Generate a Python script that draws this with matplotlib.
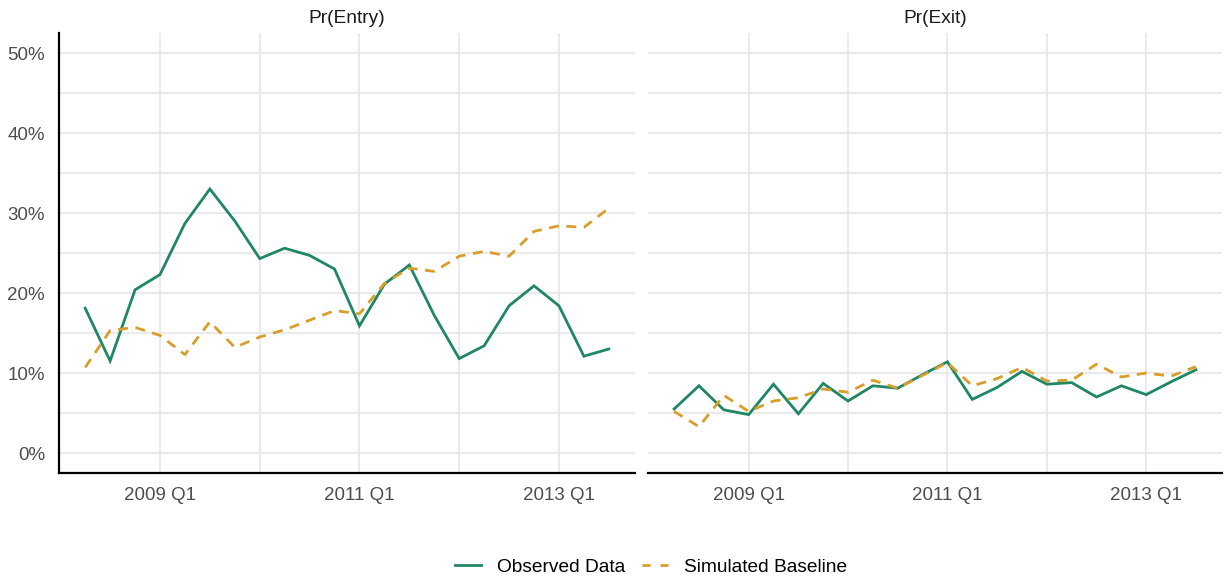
import matplotlib
matplotlib.use("Agg")
import matplotlib.pyplot as plt
from matplotlib.ticker import FixedLocator, PercentFormatter
from matplotlib.lines import Line2D

plt.rcParams["font.family"] = ["Liberation Sans", "DejaVu Sans"]

# Quarterly periods, 2008 Q2 through 2013 Q3
quarters = [f"{y} Q{q}" for y in range(2008, 2014) for q in range(1, 5)][1:23]

entry_observed = [18.1, 11.5, 20.4, 22.3, 28.7, 33.0, 29.0, 24.3, 25.6, 24.7, 23.0,
                  15.9, 21.1, 23.5, 17.2, 11.8, 13.4, 18.4, 20.9, 18.4, 12.1, 13.0]
entry_simulated = [10.7, 15.3, 15.7, 14.7, 12.3, 16.4, 13.2, 14.5, 15.4, 16.6, 17.8,
                   17.4, 21.2, 23.1, 22.7, 24.6, 25.2, 24.6, 27.7, 28.4, 28.2, 30.6]
exit_observed = [5.5, 8.4, 5.4, 4.8, 8.6, 4.9, 8.7, 6.5, 8.4, 8.1, 9.8,
                 11.4, 6.7, 8.2, 10.2, 8.6, 8.8, 7.0, 8.4, 7.3, 8.9, 10.4]
exit_simulated = [5.2, 3.3, 7.2, 5.2, 6.5, 6.9, 8.0, 7.6, 9.1, 8.1, 9.7,
                  11.3, 8.4, 9.3, 10.7, 9.0, 9.1, 11.1, 9.5, 10.0, 9.6, 10.8]

panel_titles = ["Pr(Entry)", "Pr(Exit)"]
series_labels = ["Observed Data", "Simulated Baseline"]
y_ticks = [0, 10, 20, 30, 40, 50]
x_tick_labels = ["2009 Q1", "2011 Q1", "2013 Q1"]
x_minor_labels = ["2010 Q1", "2012 Q1"]

GREEN = "#1f8763"
GOLD = "#d89e2c"
GRID = "#e8e8e8"
TEXT = "#4d4d4d"
LW = 2.0

fig = plt.figure(figsize=(12.24, 5.80), dpi=100)
W, H = 1224, 580
ax_left = fig.add_axes([59 / W, 1 - 473 / H, (635 - 59) / W, (473 - 33) / H])
ax_right = fig.add_axes([648 / W, 1 - 473 / H, (1222 - 648) / W, (473 - 33) / H],
                        sharey=ax_left)

idx = list(range(len(quarters)))
major_pos = [quarters.index(l) for l in x_tick_labels]
minor_pos = [quarters.index(l) for l in x_minor_labels]
span = len(quarters) - 1

panels = [(ax_left, entry_observed, entry_simulated),
          (ax_right, exit_observed, exit_simulated)]

for i, (ax, obs, sim) in enumerate(panels):
    ax.set_xlim(-0.05 * span, span + 0.05 * span)
    ax.set_ylim(-2.5, 52.5)
    ax.xaxis.set_major_locator(FixedLocator(major_pos))
    ax.xaxis.set_minor_locator(FixedLocator(minor_pos))
    ax.set_xticklabels(x_tick_labels)
    ax.yaxis.set_major_locator(FixedLocator(y_ticks))
    ax.yaxis.set_minor_locator(FixedLocator([5, 15, 25, 35, 45]))
    ax.yaxis.set_major_formatter(PercentFormatter(decimals=0))
    ax.grid(True, which="both", color=GRID, linewidth=1.3)
    ax.set_axisbelow(True)
    ax.tick_params(which="both", length=0, labelsize=13.5, labelcolor=TEXT)
    ax.tick_params(axis="x", pad=10)
    ax.tick_params(axis="y", pad=10)
    for s in ["top", "right"]:
        ax.spines[s].set_visible(False)
    ax.spines["bottom"].set_linewidth(1.6)
    ax.spines["bottom"].set_color("black")
    ax.spines["left"].set_linewidth(1.6)
    ax.spines["left"].set_color("black")
    if i == 1:
        ax.spines["left"].set_visible(False)
        ax.tick_params(axis="y", labelleft=False)

    ax.plot(idx, obs, color=GREEN, linewidth=LW, solid_joinstyle="miter")
    ax.plot(idx, sim, color=GOLD, linewidth=LW, linestyle=(0, (3.6, 2.7)))
    ax.set_title(panel_titles[i], fontsize=13.8, color="#1a1a1a", pad=7)

handles = [Line2D([], [], color=GREEN, linewidth=LW),
           Line2D([], [], color=GOLD, linewidth=LW, linestyle=(0, (2.9, 3.6)))]
fig.legend(handles, series_labels, loc="center", ncol=2, frameon=False,
           bbox_to_anchor=(651 / W, 1 - 567 / H), fontsize=13.8,
           handlelength=1.35, columnspacing=0.85, handletextpad=0.85)

fig.savefig("out.png", dpi=100, facecolor="white")
